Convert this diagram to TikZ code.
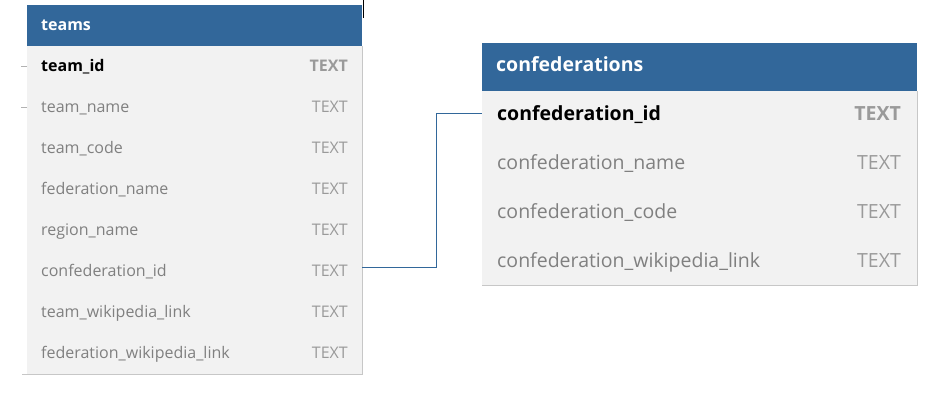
\documentclass[tikz,border=0pt]{standalone}
\usepackage{fontspec}
\setmainfont{Open Sans}
\begin{document}
\begin{tikzpicture}[x=1pt,y=-1pt]
  \definecolor{hdblue}{HTML}{32679A}
  \definecolor{bodygrey}{HTML}{F2F2F2}
  \definecolor{fldgrey}{HTML}{808080}
  \definecolor{typegrey}{HTML}{9A9A9A}
  \tikzset{
    hdr/.style={fill=hdblue, text=white, font=\bfseries, anchor=north west, align=left, inner xsep=14pt},
    tblbody/.style={fill=bodygrey, anchor=north west, inner sep=0pt},
    fld/.style={anchor=mid west, inner sep=0pt, yshift=-3pt, text=fldgrey},
    key/.style={anchor=mid west, inner sep=0pt, yshift=-3pt, text=black},
    typ/.style={anchor=mid east, inner sep=0pt, yshift=-3pt, text=typegrey},
    keytyp/.style={anchor=mid east, inner sep=0pt, yshift=-3pt, text=typegrey},
    link/.style={draw=hdblue, line width=0.8pt}
  }
  \useasboundingbox (0,0) rectangle (933,405);
  % teams
  \node[tblbody, minimum width=335pt, minimum height=328pt] (teamsbody) at (27,46) {};
  \draw[black!22] (teamsbody.south west) ++(-5,0) -- (teamsbody.south east) -- (teamsbody.north east);
  \node[hdr, minimum width=335pt, minimum height=41pt, text width=307pt, font=\fontsize{16}{19}\selectfont\bfseries] (teams) at (27,5) {teams};
  \begin{scope}[font=\fontsize{16}{19}\selectfont]
    \node[key, font=\fontsize{16}{19}\selectfont\bfseries] (tid) at (41,66) {team\_id};
    \node[fld] (tname) at (41,107) {team\_name};
    \node[fld] (tcode) at (41,148) {team\_code};
    \node[fld] (tfed) at (41,189) {federation\_name};
    \node[fld] (treg) at (41,230) {region\_name};
    \node[fld] (tcid) at (41,271) {confederation\_id};
    \node[fld] (twiki) at (41,312) {team\_wikipedia\_link};
    \node[fld] (tfwiki) at (41,353) {federation\_wikipedia\_link};
    \node[keytyp, font=\fontsize{16}{19}\selectfont\bfseries] (tidt) at (348,66) {TEXT};
    \node[typ] (tnamet) at (348,107) {TEXT};
    \node[typ] (tcodet) at (348,148) {TEXT};
    \node[typ] (tfedt) at (348,189) {TEXT};
    \node[typ] (tregt) at (348,230) {TEXT};
    \node[typ] (tcidt) at (348,271) {TEXT};
    \node[typ] (twikit) at (348,312) {TEXT};
    \node[typ] (tfwikit) at (348,353) {TEXT};
  \end{scope}
  % confederations
  \node[tblbody, minimum width=435pt, minimum height=194pt] (confbody) at (482,91) {};
  \draw[black!22] (confbody.south west) -- (confbody.south east) -- (confbody.north east);
  \node[hdr, minimum width=435pt, minimum height=48pt, text width=407pt, text depth=6pt, font=\fontsize{19.5}{23}\selectfont\bfseries] (conf) at (482,43) {confederations};
  \begin{scope}[font=\fontsize{19.5}{23}\selectfont]
    \node[key, font=\fontsize{19.5}{23}\selectfont\bfseries] (cid) at (497,115) {confederation\_id};
    \node[fld] (cname) at (497,164) {confederation\_name};
    \node[fld] (ccode) at (497,213) {confederation\_code};
    \node[fld] (cwiki) at (497,262) {confederation\_wikipedia\_link};
    \node[keytyp, font=\fontsize{19.5}{23}\selectfont\bfseries] (cidt) at (901,115) {TEXT};
    \node[typ] (cnamet) at (901,164) {TEXT};
    \node[typ] (ccodet) at (901,213) {TEXT};
    \node[typ] (cwikit) at (901,262) {TEXT};
  \end{scope}
  % relation
  \draw[link] (teamsbody.east |- tcid) ++(0,-4) -- ++(74,0) |- ([yshift=1pt]confbody.west |- cid);
  % stubs
  \draw[black!30] (teamsbody.west |- tid) ++(0,-1) -- ++(-6,0);
  \draw[black!30] (teamsbody.west |- tname) ++(0,-1) -- ++(-6,0);
  \draw[black, line width=1pt] (teams.north east) ++(1,-5) -- ++(0,18);
\end{tikzpicture}
\end{document}
